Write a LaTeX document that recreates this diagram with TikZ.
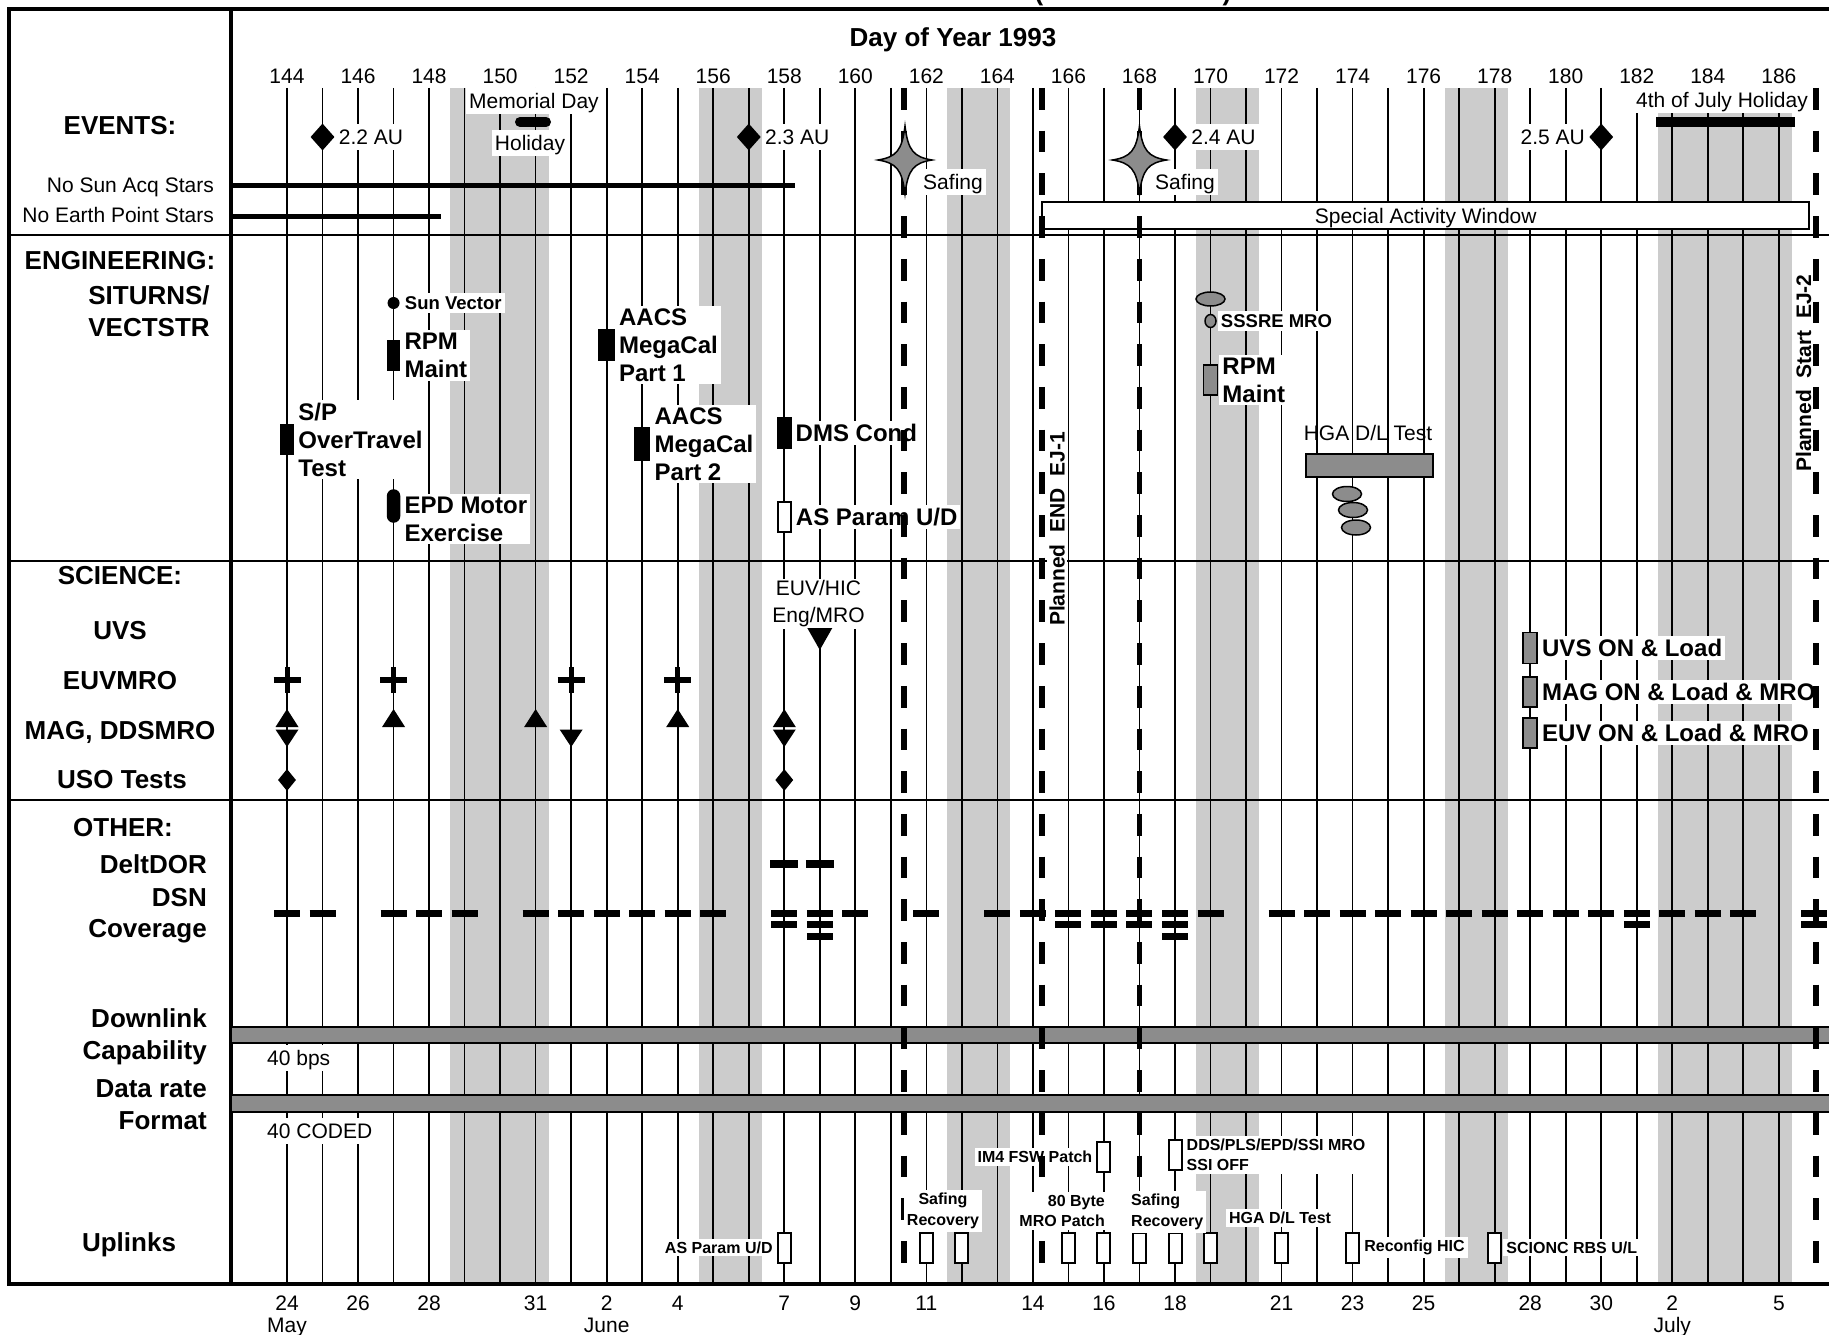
\documentclass[tikz,border=0pt]{standalone}
\usepackage{fontspec}
\setmainfont{Liberation Sans}
\usetikzlibrary{positioning,shapes.geometric}
\definecolor{wkend}{HTML}{CCCCCC}
\definecolor{actgray}{HTML}{8C8C8C}
\tikzset{declare function={dx(\q)=287+35.52*(\q-144);}}
\tikzset{safestar/.pic={
  \draw[line width=1.5pt, fill=actgray] (0,-34) .. controls (3,-9) and (9,-3) .. (27,0)
    .. controls (9,3) and (3,9) .. (0,34) .. controls (-3,9) and (-9,3) .. (-27,0)
    .. controls (-9,-3) and (-3,-9) .. cycle;}}
\tikzset{grell/.style={ellipse, draw, line width=1.5pt, fill=actgray, inner sep=0pt}}

\begin{document}
\begin{tikzpicture}[
  x=1pt, y=-1pt,
  dayln/.style={line width=1.7pt},
  planln/.style={line width=5.5pt, dash pattern=on 21.7pt off 21pt},
  secln/.style={line width=2.5pt},
  frameln/.style={line width=4.5pt},
  sectxt/.style={font=\bfseries\fontsize{26}{30}\selectfont, inner sep=0pt, text height=18.7pt, text depth=0pt},
  lbltxt/.style={font=\fontsize{21}{25}\selectfont, inner sep=0pt, text height=15.1pt, text depth=0pt},
  daynum/.style={lbltxt},
  evtxt/.style={lbltxt, fill=white, inner xsep=3pt, inner ysep=5pt},
  evtxt2/.style={font=\fontsize{21}{27}\selectfont, align=center, fill=white, inner sep=2pt},
  engtxt/.style={font=\bfseries\fontsize{24}{28}\selectfont, align=left, fill=white, inner sep=3pt},
  engsm/.style={font=\bfseries\fontsize{18.5}{22}\selectfont, fill=white, inner sep=3pt, text height=13.3pt, text depth=0pt},
  uptxt/.style={font=\bfseries\fontsize{16}{20.5}\selectfont, fill=white, inner sep=3pt},
  plantxt/.style={font=\bfseries\fontsize{21}{25}\selectfont, rotate=90, fill=white, inner sep=2pt},
  blkact/.style={rectangle, draw, fill=black, line width=1.5pt, minimum width=12pt, minimum height=30pt, inner sep=0pt},
  gryact/.style={blkact, fill=actgray, minimum width=13pt},
  whtact/.style={blkact, fill=white, line width=2pt},
  audia/.style={diamond, fill=black, inner sep=0pt, minimum width=24pt, minimum height=27pt},
  usodia/.style={diamond, fill=black, inner sep=0pt, minimum width=18pt, minimum height=22pt},
  barg/.style={draw, line width=2pt, fill=actgray},
  dsnbar/.style={line width=7pt},
]
\useasboundingbox (0,0) rectangle (1829,1335);

% weekends and day grid
\foreach \a/\b in {149/151,156/157,163/164,170/171,177/178,183/186}
  \fill[wkend] ({dx(\a)-14.5},88) rectangle ({dx(\b)+13},1283);
\foreach \d in {144,...,186}
  \draw[dayln] ({dx(\d)},88) -- ({dx(\d)},1283);
\foreach \y in {235,561,800}
  \draw[secln] (9,\y) -- (1829,\y);
\draw[frameln] (1829,9) -- (9,9) -- (9,1284) -- (1829,1284);
\draw[frameln] (231,9) -- (231,1284);

% header
\node[font=\bfseries\fontsize{26}{30}\selectfont, anchor=base] (ttll) at (1039,1) {(};
\node[font=\bfseries\fontsize{26}{30}\selectfont, anchor=base] (ttlr) at (1227,1) {)};
\node[sectxt] (doy) at (953,37) {Day of Year 1993};
\foreach \d in {144,146,...,186}
  \node[daynum] (top\d) at ({dx(\d)},76) {\d};
\foreach \d/\t in {144/24,146/26,148/28,151/31,153/2,155/4,158/7,160/9,162/11,165/14,167/16,169/18,172/21,174/23,176/25,179/28,181/30,183/2,186/5}
  \node[daynum] (bot\d) at ({dx(\d)},1303) {\t};
\node[daynum] (may) at ({dx(144)},1325) {May};
\node[daynum] (june) at ({dx(153)},1325) {June};
\node[daynum] (july) at ({dx(183)},1325) {July};

% events
\node[sectxt] (evhd) at (120,125) {EVENTS:};
\node[evtxt] (memday) at (534,101) {Memorial Day};
\draw[line width=10pt, line cap=round] (520,122) -- (546,122);
\node[evtxt] (holi) at (530,143) {Holiday};
\foreach \d/\t in {145/2.2 AU,157/2.3 AU,169/2.4 AU} {
  \node[audia] (au\d) at ({dx(\d)},137) {};
  \node[evtxt, right=1pt of au\d] (aul\d) {\t};
}
\node[audia] (au181) at ({dx(181)},137) {};
\node[evtxt, left=1pt of au181] (aul181) {2.5 AU};
\node[evtxt] (jul4) at (1722,100) {4th of July Holiday};
\draw[line width=10pt] (1656,122) -- (1794.7,122);
\node[lbltxt, anchor=east] (nosun) at (214,185) {No Sun Acq Stars};
\draw[line width=5pt] (231,185) -- ({dx(158.3)},185);
\node[lbltxt, anchor=east] (noearth) at (214,215) {No Earth Point Stars};
\draw[line width=5pt] (231,216) -- (441,216);
\node[lbltxt, draw, line width=2pt, fill=white, minimum width=767pt, minimum height=27pt] (saw) at (1425.7,215.5) {Special Activity Window};

% engineering
\node[sectxt] (enghd) at (120,260) {ENGINEERING:};
\node[sectxt] (situ) at (149,295) {SITURNS/};
\node[sectxt] (vect) at (149,327) {VECTSTR};
\node[circle, fill=black, inner sep=0pt, minimum size=12pt] (sunv) at ({dx(147)},303) {};
\node[engsm, right=2pt of sunv] (sunvl) {Sun Vector};
\node[blkact] (rpm1) at ({dx(147)},355.5) {};
\node[engtxt, right=1pt of rpm1] (rpm1l) {RPM\\Maint};
\node[blkact, minimum width=13pt] (sptt) at ({dx(144)},439.5) {};
\node[engtxt, right=1pt of sptt] (spttl) {S/P\\OverTravel\\Test};
\node[blkact, rounded corners=6pt, minimum height=32pt] (epd) at ({dx(147)},506) {};
\node[engtxt, right=1pt of epd, yshift=-13pt] (epdl) {EPD Motor\\Exercise};
\node[blkact, minimum width=15pt] (aacs1) at ({dx(153)},345) {};
\node[engtxt, right=1pt of aacs1] (aacs1l) {AACS\\MegaCal\\Part 1};
\node[blkact, minimum width=15pt, minimum height=32pt] (aacs2) at ({dx(154)},444) {};
\node[engtxt, right=1pt of aacs2] (aacs2l) {AACS\\MegaCal\\Part 2};
\node[blkact, minimum width=13pt] (dms) at ({dx(158)},433) {};
\node[engtxt, right=1pt of dms] (dmsl) {DMS Cond};
\node[whtact, minimum width=13pt] (aspe) at ({dx(158)},517) {};
\node[engtxt, right=1pt of aspe] (aspel) {AS Param U/D};
\node[grell, minimum width=29pt, minimum height=14pt] (sss1) at ({dx(170)},299) {};
\node[grell, minimum width=11pt, minimum height=13pt] (sss2) at ({dx(170)},321) {};
\node[engsm, right=1pt of sss2] (sssl) {SSSRE MRO};
\node[gryact, minimum width=14pt] (rpm2) at ({dx(170)},380) {};
\node[engtxt, right=1pt of rpm2] (rpm2l) {RPM\\Maint};
\node[lbltxt] (hgal) at (1368,433) {HGA D/L Test};
\node[draw, line width=2pt, fill=actgray, minimum width=127pt, minimum height=23pt, inner sep=0pt] (hga) at (1369.5,465.5) {};
\foreach \i/\x/\y in {1/1347/494,2/1353/510,3/1356/527.5}
  \node[grell, minimum width=29pt, minimum height=15pt] (hgae\i) at (\x,\y) {};
\node[plantxt] (ej1) at (1057,529) {Planned~~END~~EJ-1};
\node[plantxt] (ej2) at (1803.6,373) {Planned~~Start~~EJ-2};

% science
\node[sectxt] (scihd) at (120,575) {SCIENCE:};
\node[sectxt] (uvs) at (120,630) {UVS};
\node[sectxt] (euvm) at (120,680) {EUVMRO};
\node[sectxt] (magd) at (120,730) {MAG, DDSMRO};
\node[sectxt] (uso) at (122,779) {USO Tests};
\foreach \d in {144,147,152,155} {
  \draw[line width=6pt] ({dx(\d)-13.5},680) -- ({dx(\d)+13.5},680);
  \draw[line width=5pt] ({dx(\d)},667) -- ({dx(\d)},693);
}
\foreach \d in {144,147,151,155,158}
  \fill ({dx(\d)},709) -- ({dx(\d)+11.5},727) -- ({dx(\d)-11.5},727) -- cycle;
\foreach \d in {144,152,158}
  \fill ({dx(\d)-11.5},729.5) -- ({dx(\d)+11.5},729.5) -- ({dx(\d)},747) -- cycle;
\foreach \d in {144,158}
  \node[usodia] (uso\d) at ({dx(\d)},780) {};
\node[evtxt2] (euvhic) at (818.5,604) {EUV/HIC\\Eng/MRO};
\fill ({dx(159)-12.5},628) -- ({dx(159)+12.5},628) -- ({dx(159)},650) -- cycle;
\node[gryact, minimum width=14pt, minimum height=31pt] (uvson) at ({dx(179)},648) {};
\node[engtxt, right=1pt of uvson] (uvsonl) {UVS ON \& Load};
\node[gryact, minimum width=14pt] (magon) at ({dx(179)},692) {};
\node[engtxt, right=1pt of magon] (magonl) {MAG ON \& Load \& MRO};
\node[gryact, minimum width=14pt] (euvon) at ({dx(179)},733) {};
\node[engtxt, right=1pt of euvon] (euvonl) {EUV ON \& Load \& MRO};

% other
\node[sectxt] (oth) at (123,827) {OTHER:};
\node[sectxt, anchor=east] (deltl) at (207,864) {DeltDOR};
\node[sectxt, anchor=east] (dsnl) at (207,897) {DSN};
\node[sectxt, anchor=east] (covl) at (207,928) {Coverage};
\foreach \d in {158,159}
  \draw[line width=8pt] ({dx(\d)-14},864) -- ({dx(\d)+14},864);
\foreach \d in {144,145,147,148,149,151,152,153,154,155,156,158,159,160,162,164,165,166,167,168,169,170,172,173,174,175,176,177,178,179,180,181,182,183,184,185,187}
  \draw[dsnbar] ({dx(\d)-13},913) -- ({dx(\d)+13},913);
\foreach \d in {158,159,166,167,168,169,182,187}
  \draw[dsnbar] ({dx(\d)-13},924.5) -- ({dx(\d)+13},924.5);
\foreach \d in {159,169}
  \draw[dsnbar] ({dx(\d)-13},936) -- ({dx(\d)+13},936);
\node[sectxt, anchor=east] (dlk) at (207,1018) {Downlink};
\node[sectxt, anchor=east] (capb) at (207,1050) {Capability};
\draw[barg] (231,1026.7) rectangle (1835,1042.7);
\node[evtxt, anchor=west] (bps) at (264,1058) {40 bps};
\node[sectxt, anchor=east] (drt) at (207,1088) {Data rate};
\node[sectxt, anchor=east] (fmt) at (207,1120) {Format};
\draw[barg] (231,1095) rectangle (1835,1112);
\node[evtxt, anchor=west] (coded) at (264,1131) {40 CODED};
\node[sectxt] (upl) at (129,1242) {Uplinks};
\node[whtact, minimum width=13pt] (im4) at ({dx(167)},1157) {};
\node[uptxt, left=1pt of im4] (im4l) {IM4 FSW Patch};

% planned EJ boundaries
\foreach \d in {161.37,165.25,168,187.05}
  \draw[planln] ({dx(\d)},88) -- ({dx(\d)},1283);

\pic (safe1) at (905,160) {safestar};
\node[evtxt] (safel1) at (953,182) {Safing};
\pic (safe2) at ({dx(168)},160) {safestar};
\node[evtxt] (safel2) at (1185,182) {Safing};

% uplinks
\foreach \d in {158,162,163,166,167,168,169,170,172,174,178}
  \node[whtact, minimum width=13pt] (up\d) at ({dx(\d)},1247.5) {};
\node[whtact, minimum width=13pt] (dds) at ({dx(169)},1155) {};
\node[uptxt, left=1pt of up158] (up158l) {AS Param U/D};
\node[uptxt, align=center] (sr1) at (943,1211) {Safing\\Recovery};
\node[uptxt, align=right, anchor=east] (mro80) at (1108,1211) {80 Byte\\MRO Patch};
\node[uptxt, align=left, anchor=west] (sr2) at (1128,1212) {Safing\\Recovery};
\node[uptxt] (hgaup) at (1280,1218) {HGA D/L Test};
\node[uptxt, align=left, right=1pt of dds] (ddsl) {DDS/PLS/EPD/SSI MRO\\SSI OFF};
\node[uptxt, right=1pt of up174] (up174l) {Reconfig HIC};
\node[uptxt, right=1pt of up178] (up178l) {SCIONC RBS U/L};
\end{tikzpicture}
\end{document}
